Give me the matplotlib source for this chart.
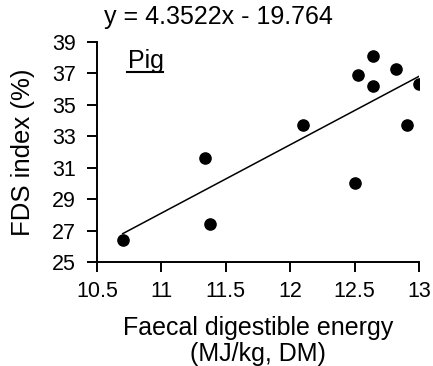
import matplotlib
matplotlib.use("Agg")
import matplotlib.pyplot as plt
import numpy as np

plt.rcParams["font.family"] = ["Liberation Sans", "DejaVu Sans"]

# faecal DE (MJ/kg DM) vs FDS index (%) for pig diets
fde = [10.70, 11.34, 11.38, 12.10, 12.50, 12.53, 12.64, 12.64, 12.82, 12.91, 13.00]
fds = [26.4, 31.6, 27.4, 33.7, 30.0, 36.9, 38.1, 36.2, 37.3, 33.7, 36.3]
slope, intercept = 4.3522, -19.764

xticks = [10.5, 11, 11.5, 12, 12.5, 13]
yticks = [25, 27, 29, 31, 33, 35, 37, 39]

W, H = 433, 366
fig = plt.figure(figsize=(W / 100, H / 100), dpi=100)
ax = fig.add_axes([97 / W, 1 - 262 / H, 322 / W, 220 / H])

ax.scatter(fde, fds, s=65, color="black", zorder=3)
xl = np.array([min(fde), max(fde)])
ax.plot(xl, slope * xl + intercept, color="black", lw=1.1)

ax.set_xlim(10.5, 13)
ax.set_ylim(25, 39)
ax.set_xticks(xticks, labels=[f"{t:g}" for t in xticks])
ax.set_yticks(yticks)
for side in ("top", "right"):
    ax.spines[side].set_visible(False)
for side in ("left", "bottom"):
    ax.spines[side].set_linewidth(1.4)
ax.tick_params(direction="out", length=7, width=1.4, labelsize=15.5)
ax.tick_params(axis="x", pad=7)
ax.tick_params(axis="y", pad=8)

ax.set_xlabel("Faecal digestible energy\n(MJ/kg, DM)", fontsize=18,
              linespacing=1.1, labelpad=10)
ax.set_ylabel("FDS index (%)", fontsize=18.5, labelpad=12)

# regression equation above the plot
fig.text(218 / W, 1 - 24 / H, f"y = {slope}x - {abs(intercept)}",
         ha="center", va="baseline", fontsize=18)

# underlined panel label
ax.text(0.096, 0.882, "Pig", transform=ax.transAxes, ha="left",
        va="baseline", fontsize=18)
ax.plot([0.093, 0.205], [0.862, 0.862], transform=ax.transAxes,
        color="black", lw=1.5, clip_on=False)

fig.savefig("out.png", dpi=100)
